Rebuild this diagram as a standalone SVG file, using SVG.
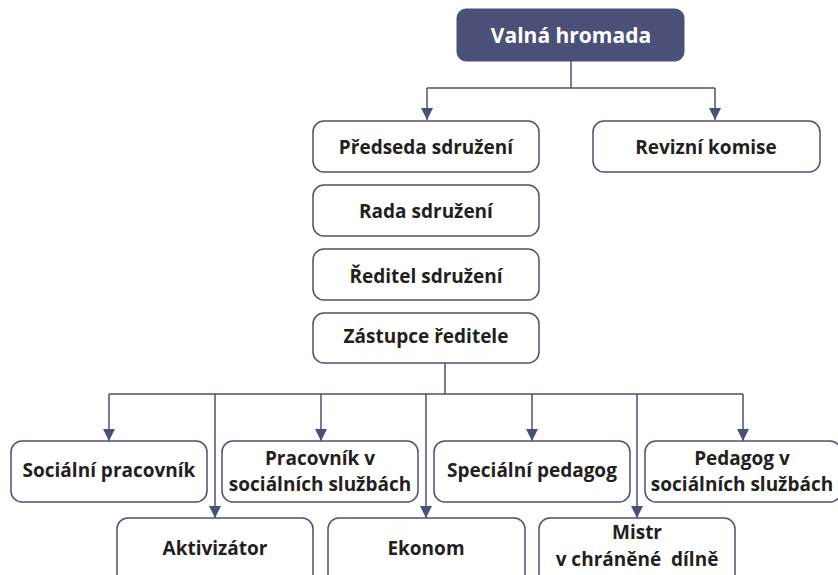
<svg xmlns="http://www.w3.org/2000/svg" width="838" height="575" viewBox="0 0 838 575">
<defs>
<marker id="ah" markerWidth="12" markerHeight="12" refX="12" refY="6" orient="auto" markerUnits="userSpaceOnUse">
<path d="M0,0 L12,6 L0,12 Z" fill="#4a5078"/>
</marker>
<style>
.box{fill:#fff;stroke:#4a5078;stroke-width:1.5}
.top{fill:#4a5078;stroke:#4a5078}
.t{font-family:"Open Sans","Noto Sans",sans-serif;font-weight:700;font-size:19px;fill:#231f20;text-anchor:middle;white-space:pre}
.tw{font-family:"Open Sans","Noto Sans",sans-serif;font-weight:700;font-size:21px;fill:#fff;text-anchor:middle}
.c{fill:none;stroke:#4a5078;stroke-width:1.5}
</style>
</defs>
<g id="connectors">
<path class="c" d="M571,61 V88 M427,88 H715"/>
<path class="c" d="M427,88 V120" marker-end="url(#ah)"/>
<path class="c" d="M715,88 V120" marker-end="url(#ah)"/>
<path class="c" d="M445,363 V394 M109,394 H743"/>
<path class="c" d="M109,394 V441" marker-end="url(#ah)"/>
<path class="c" d="M215,394 V518" marker-end="url(#ah)"/>
<path class="c" d="M321,394 V441" marker-end="url(#ah)"/>
<path class="c" d="M426,394 V518" marker-end="url(#ah)"/>
<path class="c" d="M532,394 V441" marker-end="url(#ah)"/>
<path class="c" d="M637,394 V518" marker-end="url(#ah)"/>
<path class="c" d="M743,394 V441" marker-end="url(#ah)"/>
</g>
<g id="valna-hromada">
<rect class="top" x="457" y="9" width="227" height="52" rx="9"/>
<text class="tw" x="571" y="43">Valná hromada</text>
</g>
<g id="predseda">
<rect class="box" x="313" y="121" width="226" height="51" rx="11"/>
<text class="t" x="426" y="154">Předseda sdružení</text>
</g>
<g id="revizni-komise">
<rect class="box" x="593" y="121" width="227" height="51" rx="11"/>
<text class="t" x="706" y="154">Revizní komise</text>
</g>
<g id="rada">
<rect class="box" x="313" y="185" width="226" height="51" rx="11"/>
<text class="t" x="426" y="218">Rada sdružení</text>
</g>
<g id="reditel">
<rect class="box" x="313" y="249" width="226" height="51" rx="11"/>
<text class="t" x="426" y="283">Ředitel sdružení</text>
</g>
<g id="zastupce">
<rect class="box" x="313" y="313" width="226" height="50" rx="11"/>
<text class="t" x="426" y="343">Zástupce ředitele</text>
</g>
<g id="socialni-pracovnik">
<rect class="box" x="11" y="441" width="196" height="61" rx="11"/>
<text class="t" x="109" y="477">Sociální pracovník</text>
</g>
<g id="pracovnik-ss">
<rect class="box" x="222" y="441" width="196" height="61" rx="11"/>
<text class="t" x="320" y="465">Pracovník v</text>
<text class="t" x="320" y="491">sociálních službách</text>
</g>
<g id="specialni-pedagog">
<rect class="box" x="434" y="441" width="196" height="61" rx="11"/>
<text class="t" x="532" y="477">Speciální pedagog</text>
</g>
<g id="pedagog-ss">
<rect class="box" x="645" y="441" width="196" height="61" rx="11"/>
<text class="t" x="742" y="465">Pedagog v</text>
<text class="t" x="742" y="491">sociálních službách</text>
</g>
<g id="aktivizator">
<rect class="box" x="117" y="518" width="196" height="70" rx="11"/>
<text class="t" x="215" y="555">Aktivizátor</text>
</g>
<g id="ekonom">
<rect class="box" x="328" y="518" width="197" height="70" rx="11"/>
<text class="t" x="426" y="555">Ekonom</text>
</g>
<g id="mistr">
<rect class="box" x="539" y="518" width="196" height="70" rx="11"/>
<text class="t" x="637" y="539">Mistr</text>
<text class="t" x="637" y="566">v chráněné  dílně</text>
</g>
</svg>
